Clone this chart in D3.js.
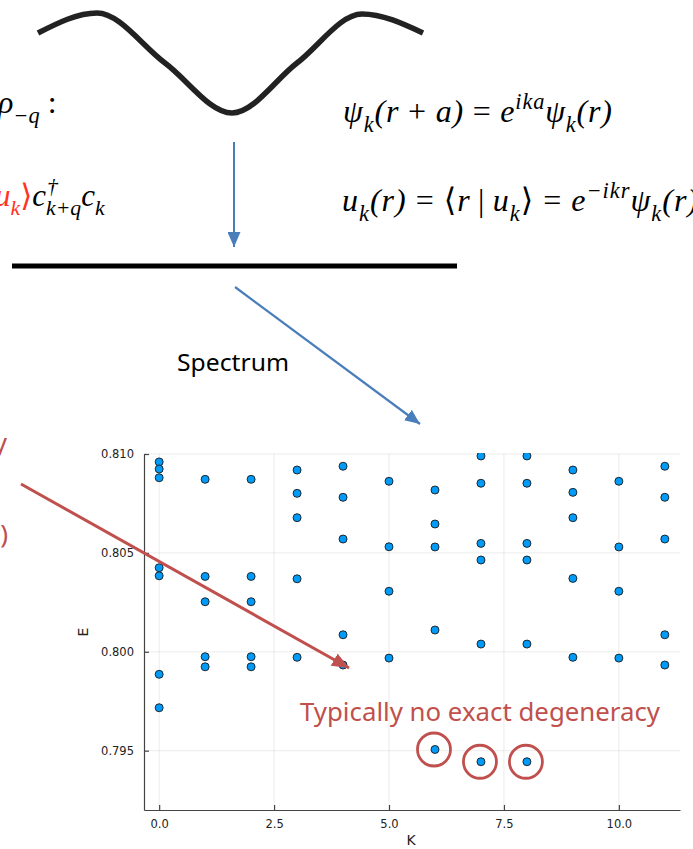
<!DOCTYPE html>
<html>
<head>
<meta charset="utf-8">
<script src="https://cdn.jsdelivr.net/npm/d3@7"></script>
<style>
  body { margin: 0; background: #fff; }
  svg { display: block; }
</style>
</head>
<body>
<div id="chart"></div>
<script>
// spectrum data (K, E)
var kVals = [0, 0, 0, 0, 0, 0, 0,
    1, 1, 1, 1, 1,
    2, 2, 2, 2, 2,
    3, 3, 3, 3, 3,
    4, 4, 4, 4, 4,
    5, 5, 5, 5,
    6, 6, 6, 6, 6,
    7, 7, 7, 7, 7, 7,
    8, 8, 8, 8, 8, 8,
    9, 9, 9, 9, 9,
    10, 10, 10, 10,
    11, 11, 11, 11, 11];

var eVals = [0.80960, 0.80924, 0.80880, 0.80425, 0.80384, 0.79886, 0.79717,
    0.80872, 0.80381, 0.80253, 0.79975, 0.79924,
    0.80872, 0.80381, 0.80253, 0.79975, 0.79924,
    0.80919, 0.80801, 0.80678, 0.80369, 0.79972,
    0.80938, 0.80781, 0.80570, 0.80086, 0.79933,
    0.80862, 0.80531, 0.80306, 0.79968,
    0.80818, 0.80646, 0.80530, 0.80110, 0.79506,
    0.80990, 0.80852, 0.80548, 0.80464, 0.80039, 0.79444,
    0.80990, 0.80852, 0.80548, 0.80464, 0.80039, 0.79444,
    0.80919, 0.80806, 0.80678, 0.80371, 0.79972,
    0.80862, 0.80530, 0.80306, 0.79968,
    0.80938, 0.80781, 0.80570, 0.80086, 0.79933];

var xTicks = [0, 2.5, 5, 7.5, 10],
    yTicks = [0.795, 0.800, 0.805, 0.810];

// the three points that get circled
var circledK = [6, 7, 8],
    circledE = [0.79506, 0.79444, 0.79444];

var width = 693,
    height = 849,
    plot = { left: 144, right: 680, top: 454, bottom: 810 },
    blue = "#4a7ebb",
    red = "#c0504d",
    mathFont = "'Liberation Serif', 'DejaVu Serif', serif",
    slideFont = "'Noto Sans', 'Open Sans', sans-serif";

var svg = d3.select("#chart")
    .append("svg")
    .attr("width", width)
    .attr("height", height);

var defs = svg.append("defs");

function arrowMarker(id, color, len, w) {
    defs.append("marker")
        .attr("id", id)
        .attr("markerUnits", "userSpaceOnUse")
        .attr("viewBox", "0 0 " + len + " " + w)
        .attr("refX", len)
        .attr("refY", w / 2)
        .attr("markerWidth", len)
        .attr("markerHeight", w)
        .attr("orient", "auto")
        .append("path")
        .attr("d", "M0,0L" + len + "," + (w / 2) + "L0," + w + "Z")
        .attr("fill", color);
}
arrowMarker("headBlue", blue, 15, 13);
arrowMarker("headRed", red, 17, 14);

defs.append("clipPath")
    .attr("id", "plotClip")
    .append("rect")
    .attr("x", plot.left)
    .attr("y", plot.top - 1)
    .attr("width", plot.right - plot.left)
    .attr("height", plot.bottom - plot.top + 1);

// ---------- slide drawing ----------

// potential curve
var wave = d3.line().curve(d3.curveMonotoneX);
svg.append("path")
    .attr("d", wave([[38, 33], [97, 13], [165, 63], [232, 113], [297, 63], [362, 14], [423, 33]]))
    .attr("fill", "none")
    .attr("stroke", "#222")
    .attr("stroke-width", 5.5);

// flat bar
svg.append("line")
    .attr("x1", 12).attr("x2", 457)
    .attr("y1", 266).attr("y2", 266)
    .attr("stroke", "#000")
    .attr("stroke-width", 5);

// blue arrows
svg.append("line")
    .attr("x1", 234).attr("y1", 142)
    .attr("x2", 234).attr("y2", 247)
    .attr("stroke", blue)
    .attr("stroke-width", 2)
    .attr("marker-end", "url(#headBlue)");

svg.append("line")
    .attr("x1", 235).attr("y1", 287)
    .attr("x2", 420).attr("y2", 424)
    .attr("stroke", blue)
    .attr("stroke-width", 2.2)
    .attr("marker-end", "url(#headBlue)");

svg.append("text")
    .attr("x", 177).attr("y", 371)
    .attr("font-family", slideFont)
    .attr("font-size", 23)
    .attr("textLength", 112)
    .attr("lengthAdjust", "spacingAndGlyphs")
    .attr("fill", "#000")
    .text("Spectrum");

// math text helper: parts = [text, kind, color]; kind "_" sub, "^" sup, "u" upright
function math(x, y, size, parts, fit) {
    var t = svg.append("text")
        .attr("x", x).attr("y", y)
        .attr("font-family", mathFont)
        .attr("font-size", size)
        .attr("font-style", "italic")
        .attr("fill", "#000");
    var cur = 0;
    parts.forEach(function (p) {
        var kind = p[1] || "";
        var off = kind == "_" ? 0.3 * size : kind == "^" ? -0.42 * size : 0;
        var ts = t.append("tspan")
            .attr("dy", off - cur)
            .text(p[0]);
        if (kind == "_" || kind == "^") ts.attr("font-size", size * 0.7);
        if (kind == "u") ts.attr("font-style", "normal");
        if (p[2]) ts.attr("fill", p[2]);
        cur = off;
    });
    if (fit) t.attr("textLength", fit).attr("lengthAdjust", "spacing");
    return t;
}

var mSize = 32;

math(-2, 113, mSize, [["ρ"], ["−q", "_"], [" :", "u"]]);

math(343, 122, mSize, [["ψ"], ["k", "_"], ["(r"], [" + ", "u"], ["a)"], [" = ", "u"],
    ["e"], ["ika", "^"], ["ψ"], ["k", "_"], ["(r)"]], 269);

math(342, 211, mSize, [["u"], ["k", "_"], ["(r)"], [" = ", "u"], ["⟨", "u"], ["r"], ["\u2009|\u2009", "u"],
    ["u"], ["k", "_"], ["⟩", "u"], [" = ", "u"], ["e"], ["−ikr", "^"], ["ψ"], ["k", "_"], ["(r)"]], 356);

var redText = "#ff3322";
var pre = math(-5, 206, 31, [["u", "", redText], ["k", "_", redText], ["⟩", "u", redText], ["c"]]);
var preW = pre.node().getComputedTextLength();
math(-5 + preW + 1, 206, 31, [["†", "^"]]);
math(-5 + preW, 206, 31, [["k+q", "_"], ["c"], ["k", "_"]]);

// clipped red text at the left edge
svg.append("text")
    .attr("x", 7).attr("y", 452)
    .attr("text-anchor", "end")
    .attr("font-family", slideFont)
    .attr("font-size", 26)
    .attr("fill", red)
    .text("y");
svg.append("text")
    .attr("x", 8).attr("y", 543)
    .attr("text-anchor", "end")
    .attr("font-family", slideFont)
    .attr("font-size", 26)
    .attr("fill", red)
    .text("r)");

// ---------- the plot ----------

var x = d3.scaleLinear().domain([-0.33, 11.33]).range([plot.left, plot.right]);
var y = d3.scaleLinear().domain([0.792, 0.810]).range([plot.bottom, plot.top]);

var grid = svg.append("g").attr("stroke", "#000").attr("stroke-opacity", 0.08).attr("stroke-width", 1);
grid.selectAll(".gx").data(xTicks).enter().append("line")
    .attr("x1", function (d) { return x(d); })
    .attr("x2", function (d) { return x(d); })
    .attr("y1", plot.top).attr("y2", plot.bottom);
grid.selectAll(".gy").data(yTicks).enter().append("line")
    .attr("y1", function (d) { return y(d); })
    .attr("y2", function (d) { return y(d); })
    .attr("x1", plot.left).attr("x2", plot.right);

var xAxis = d3.axisBottom(x).tickValues(xTicks).tickFormat(d3.format(".1f")).tickSizeInner(-5).tickSizeOuter(0).tickPadding(10);
var yAxis = d3.axisLeft(y).tickValues(yTicks).tickFormat(d3.format(".3f")).tickSizeInner(-5).tickSizeOuter(0).tickPadding(10);

var gx = svg.append("g")
    .attr("transform", "translate(0," + plot.bottom + ")")
    .call(xAxis);
var gy = svg.append("g")
    .attr("transform", "translate(" + plot.left + ",0)")
    .call(yAxis);

[gx, gy].forEach(function (g) {
    g.select(".domain").attr("stroke", "#444").attr("stroke-width", 1.2);
    g.selectAll(".tick line").attr("stroke", "#444").attr("stroke-width", 1.2);
    g.selectAll(".tick text")
        .attr("font-family", "'DejaVu Sans', sans-serif")
        .attr("font-size", 11.5)
        .attr("fill", "#222");
});

svg.append("text")
    .attr("x", 411).attr("y", 845)
    .attr("text-anchor", "middle")
    .attr("font-family", "'DejaVu Sans', sans-serif")
    .attr("font-size", 14)
    .attr("fill", "#222")
    .text("K");

svg.append("text")
    .attr("transform", "translate(88,632) rotate(-90)")
    .attr("text-anchor", "middle")
    .attr("font-family", "'DejaVu Sans', sans-serif")
    .attr("font-size", 14)
    .attr("fill", "#222")
    .text("E");

svg.append("g")
    .attr("clip-path", "url(#plotClip)")
    .selectAll("circle")
    .data(eVals)
    .enter()
    .append("circle")
    .attr("cx", function (d, i) { return x(kVals[i]); })
    .attr("cy", function (d) { return y(d); })
    .attr("r", 4)
    .attr("fill", "#009af9")
    .attr("stroke", "#1a1a1a")
    .attr("stroke-width", 0.9);

// ---------- annotations ----------

svg.append("line")
    .attr("x1", 21).attr("y1", 484)
    .attr("x2", 349).attr("y2", 668)
    .attr("stroke", red)
    .attr("stroke-width", 3)
    .attr("marker-end", "url(#headRed)");

svg.append("text")
    .attr("x", 300).attr("y", 721)
    .attr("font-family", slideFont)
    .attr("font-size", 25)
    .attr("fill", red)
    .attr("textLength", 360)
    .attr("lengthAdjust", "spacingAndGlyphs")
    .text("Typically no exact degeneracy");

svg.selectAll(".ring")
    .data(circledE)
    .enter()
    .append("circle")
    .attr("cx", function (d, i) { return x(circledK[i]) - 1; })
    .attr("cy", function (d) { return y(d); })
    .attr("r", 16.5)
    .attr("fill", "none")
    .attr("stroke", red)
    .attr("stroke-width", 2.8);
</script>
</body>
</html>
